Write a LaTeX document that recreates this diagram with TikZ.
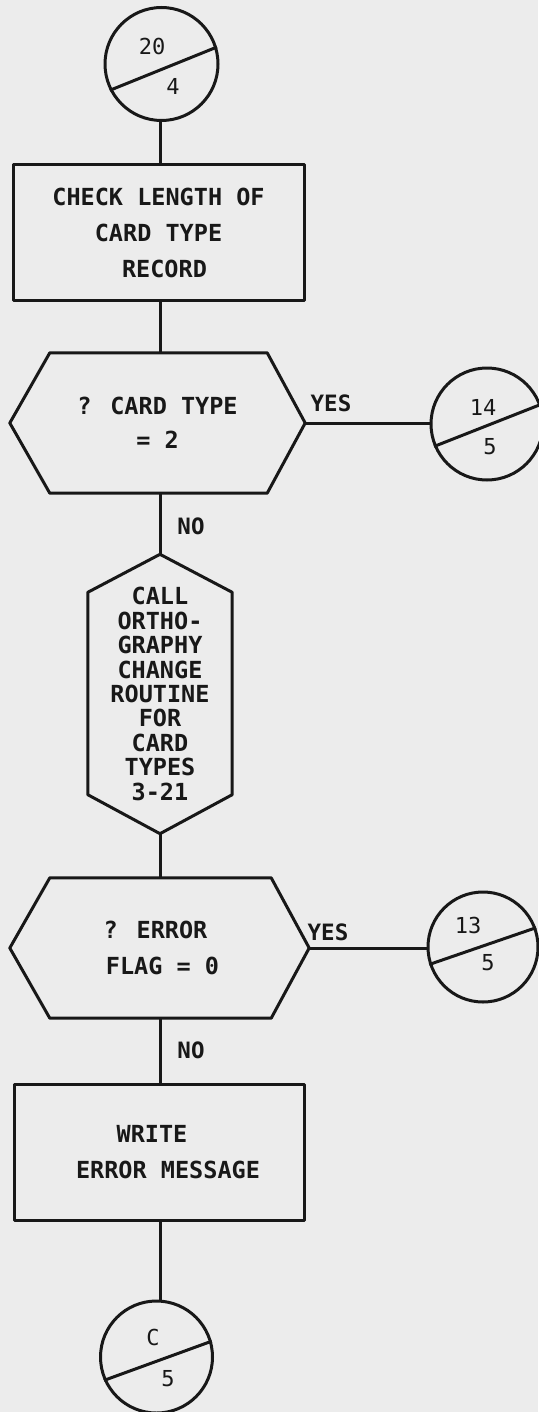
\documentclass[tikz,border=0pt]{standalone}
\usepackage{fontspec}
\usetikzlibrary{calc}
\newfontfamily\fcfont{DejaVu Sans Mono}
\definecolor{bg}{RGB}{236,236,236}
\definecolor{ink}{RGB}{24,24,24}
\begin{document}
\begin{tikzpicture}[x=1pt,y=-1pt,
  ink line/.style={draw=ink,line width=3pt,line join=round},
  con/.style={circle,ink line,inner sep=0pt},
  shapebox/.style={rectangle,inner sep=0pt,align=center,text=ink,font=\fcfont\bfseries\fontsize{23.5}{36}\selectfont},
  procbox/.style={shapebox,ink line},
  decbox/.style={shapebox},
  ctext/.style={text=ink,inner sep=0pt,font=\fcfont\fontsize{22}{22}\selectfont},
  lab/.style={text=ink,inner sep=0pt,font=\fcfont\bfseries\fontsize{22.5}{22.5}\selectfont}
]
\fill[bg] (0,0) rectangle (538,1412);
\useasboundingbox (0,0) rectangle (538,1412);
\coordinate (spine) at (160,0);

% connectors (circles)
\node[con,minimum size=113] (c1) at (161.5,64) {};
\node[con,minimum size=112] (c2) at (487,424) {};
\node[con,minimum size=110] (c3) at (483,947) {};
\node[con,minimum size=112] (c4) at (156.5,1357) {};
\draw[ink line] (c1.207) -- (c1.17);
\draw[ink line] (c2.203) -- (c2.20);
\draw[ink line] (c3.198) -- (c3.20);
\draw[ink line] (c4.204) -- (c4.16);
\node[ctext] (c1a) at (152,46) {20};
\node[ctext] (c1b) at (173,86) {4};
\node[ctext] (c2a) at (483,407) {14};
\node[ctext] (c2b) at (490,447) {5};
\node[ctext] (c3a) at (468,925) {13};
\node[ctext] (c3b) at (488,963) {5};
\node[ctext] (c4a) at (153,1337) {C};
\node[ctext] (c4b) at (168,1379) {5};

% process boxes
\node[procbox,minimum width=291,minimum height=136] (box1) at (158.5,233)
  {CHECK LENGTH OF\\CARD TYPE\\\hspace*{12pt}RECORD};
\node[procbox,minimum width=290,minimum height=136] (box2) at (159,1152)
  {WRITE\hspace*{14pt}\\\hspace*{18pt}ERROR MESSAGE};

% decisions
\node[decbox,minimum width=295,minimum height=140,font=\fcfont\bfseries\fontsize{23.5}{34}\selectfont] (hex1) at (157.5,423)
  {? CARD TYPE\\= 2};
\node[decbox,minimum width=299,minimum height=140] (hex2) at (159.5,948)
  {? ERROR\hspace*{8pt}\\\hspace*{6pt}FLAG = 0};
\foreach \h in {hex1,hex2}{
  \draw[ink line] (\h.west) -- ($(\h.north west)+(40,0)$) -- ($(\h.north east)+(-38,0)$)
    -- (\h.east) -- ($(\h.south east)+(-38,0)$) -- ($(\h.south west)+(40,0)$) -- cycle;
}

% long preparation hexagon
\node[decbox,minimum width=144,minimum height=279,font=\fcfont\bfseries\fontsize{23.5}{24.4}\selectfont] (lh) at (160,694)
  {CALL\\ORTHO-\\GRAPHY\\CHANGE\\ROUTINE\hspace*{8pt}\\FOR\hspace*{10pt}\\CARD\\TYPES\hspace*{12pt}\\3-21};
\draw[ink line] (lh.north) -- ($(lh.north east)+(0,38)$) -- ($(lh.south east)+(0,-39)$)
  -- (lh.south) -- ($(lh.south west)+(0,-39)$) -- ($(lh.north west)+(0,38)$) -- cycle;

% flow lines
\draw[ink line] (c1.south -| spine) -- (box1.north -| spine);
\draw[ink line] (box1.south -| spine) -- (hex1.north -| spine);
\draw[ink line] (hex1.south -| spine) -- (lh.north);
\draw[ink line] (hex1.east) -- (hex1.east -| c2.west);
\draw[ink line] (lh.south) -- (hex2.north -| spine);
\draw[ink line] (hex2.east) -- (hex2.east -| c3.west);
\draw[ink line] (hex2.south -| spine) -- (box2.north -| spine);
\draw[ink line] (box2.south -| spine) -- (c4.north -| spine);

% branch labels
\node[lab] (yes1) at (331,403) {YES};
\node[lab] (no1) at (191,526) {NO};
\node[lab] (yes2) at (328,932) {YES};
\node[lab] (no2) at (191,1050) {NO};
\end{tikzpicture}
\end{document}
